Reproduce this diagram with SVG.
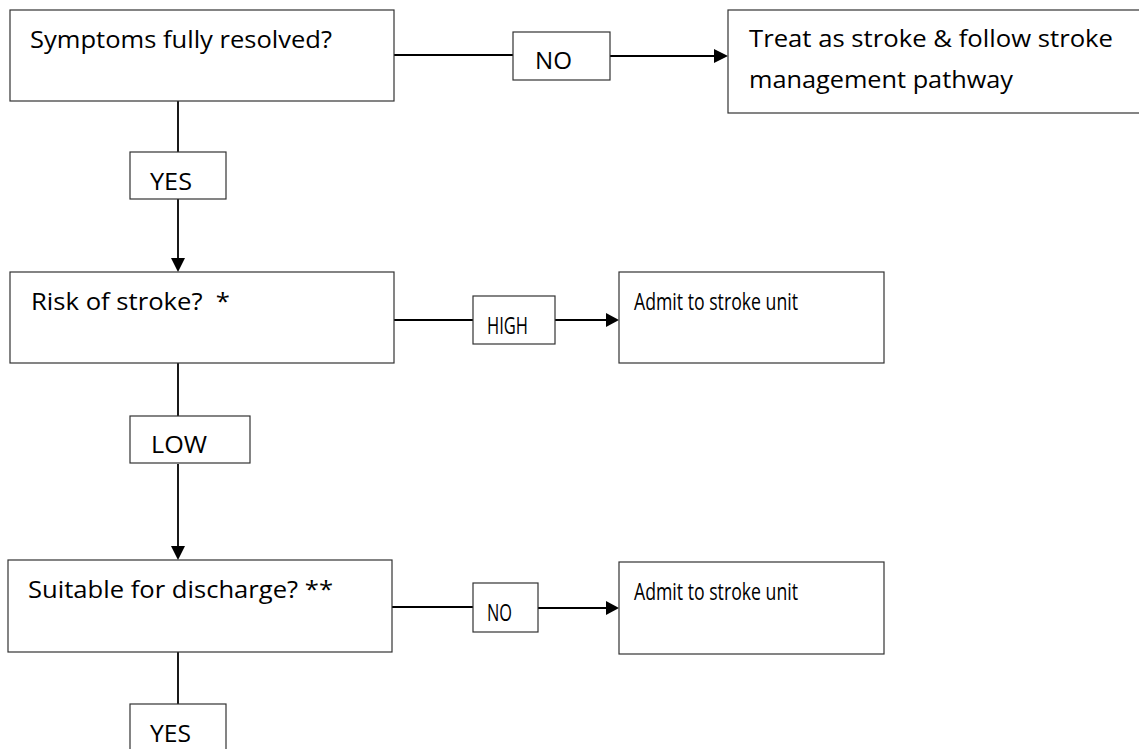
<svg xmlns="http://www.w3.org/2000/svg" width="1139" height="749" viewBox="0 0 1139 749">
<defs>
<style>
.box{fill:#fff;stroke:#333;stroke-width:1.2}
.t{font-family:"Open Sans","Noto Sans","Liberation Sans",sans-serif;font-size:24px;fill:#000}
.c{fill:none;stroke:#000;stroke-width:1.8}
.ah{fill:#000}
</style>
</defs>
<rect width="1139" height="749" fill="#fff"/>
<g id="connectors">
<line class="c" x1="178" y1="101" x2="178" y2="152"/>
<path class="c" d="M178,199 V260"/>
<path class="ah" d="M171,258 L185,258 L178,272 Z"/>
<line class="c" x1="178" y1="363" x2="178" y2="416"/>
<path class="c" d="M178,464 V548"/>
<path class="ah" d="M171,546 L185,546 L178,560 Z"/>
<line class="c" x1="178" y1="652" x2="178" y2="704"/>
<line class="c" x1="394" y1="55" x2="513" y2="55"/>
<path class="c" d="M610,56 H716"/>
<path class="ah" d="M714,49 L728,56 L714,63 Z"/>
<line class="c" x1="394" y1="320" x2="473" y2="320"/>
<path class="c" d="M555,320 H608"/>
<path class="ah" d="M606,313 L619,320 L606,327 Z"/>
<line class="c" x1="392" y1="607" x2="473" y2="607"/>
<path class="c" d="M538,608 H608"/>
<path class="ah" d="M606,601 L619,608 L606,615 Z"/>
</g>
<g id="n-symptoms">
<rect class="box" x="10" y="10" width="384" height="91"/>
<text class="t" x="30" y="48" textLength="302" lengthAdjust="spacingAndGlyphs">Symptoms fully resolved?</text>
</g>
<g id="l-yes1">
<rect class="box" x="130" y="152" width="96" height="47"/>
<text class="t" x="150" y="190" textLength="42" lengthAdjust="spacingAndGlyphs">YES</text>
</g>
<g id="l-no1">
<rect class="box" x="513" y="32" width="97" height="48"/>
<text class="t" x="535" y="69" textLength="37" lengthAdjust="spacingAndGlyphs">NO</text>
</g>
<g id="n-treat">
<rect class="box" x="728" y="10" width="420" height="103"/>
<text class="t" x="749" y="47" textLength="364" lengthAdjust="spacingAndGlyphs">Treat as stroke &amp; follow stroke</text>
<text class="t" x="749" y="88" textLength="264" lengthAdjust="spacingAndGlyphs">management pathway</text>
</g>
<g id="n-risk">
<rect class="box" x="10" y="272" width="384" height="91"/>
<text class="t" x="31" y="310" textLength="199" lengthAdjust="spacingAndGlyphs" xml:space="preserve">Risk of stroke?  *</text>
</g>
<g id="l-high">
<rect class="box" x="473" y="296" width="82" height="48"/>
<text class="t" x="487" y="334" textLength="41" lengthAdjust="spacingAndGlyphs">HIGH</text>
</g>
<g id="n-admit1">
<rect class="box" x="619" y="272" width="265" height="91"/>
<text class="t" x="634" y="310" textLength="164" lengthAdjust="spacingAndGlyphs">Admit to stroke unit</text>
</g>
<g id="l-low">
<rect class="box" x="130" y="416" width="120" height="47"/>
<text class="t" x="151" y="453" textLength="56" lengthAdjust="spacingAndGlyphs">LOW</text>
</g>
<g id="n-discharge">
<rect class="box" x="8" y="560" width="384" height="92"/>
<text class="t" x="28" y="598" textLength="305" lengthAdjust="spacingAndGlyphs">Suitable for discharge? **</text>
</g>
<g id="l-no2">
<rect class="box" x="473" y="583" width="65" height="49"/>
<text class="t" x="487" y="621" textLength="25" lengthAdjust="spacingAndGlyphs">NO</text>
</g>
<g id="n-admit2">
<rect class="box" x="619" y="562" width="265" height="92"/>
<text class="t" x="634" y="600" textLength="164" lengthAdjust="spacingAndGlyphs">Admit to stroke unit</text>
</g>
<g id="l-yes2">
<rect class="box" x="130" y="704" width="96" height="60"/>
<text class="t" x="150" y="742" textLength="41" lengthAdjust="spacingAndGlyphs">YES</text>
</g>
</svg>
